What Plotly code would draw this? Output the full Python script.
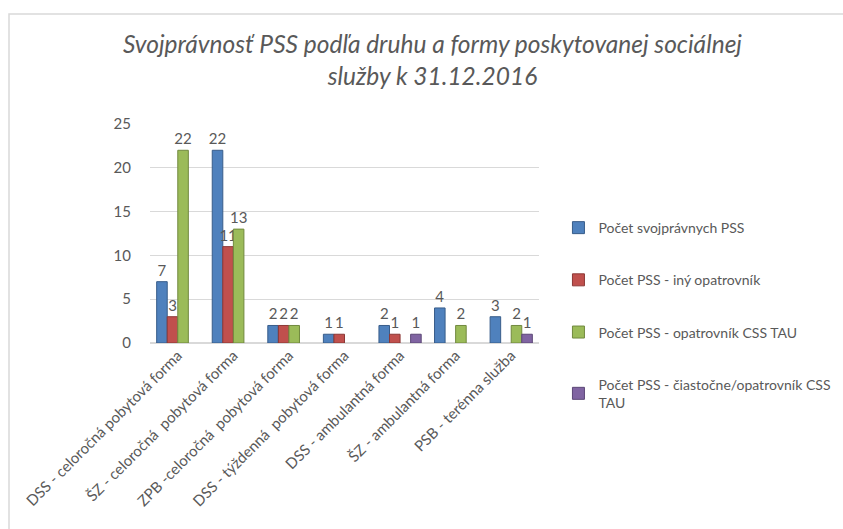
import plotly.graph_objects as go

categories = [
    "DSS - celoročná pobytová forma",
    "ŠZ - celoročná  pobytová forma",
    "ZPB -celoročná  pobytová forma",
    "DSS - týždenná  pobytová forma",
    "DSS - ambulantná forma",
    "ŠZ - ambulantná forma",
    "PSB - terénna služba",
]
svojpravni = [7, 22, 2, 1, 2, 4, 3]
iny_opatrovnik = [3, 11, 2, 1, 1, None, None]
opatrovnik_css = [22, 13, 2, None, None, 2, 2]
ciastocne = [None, None, None, None, 1, None, 1]

series_names = [
    "Počet svojprávnych PSS",
    "Počet PSS - iný opatrovník",
    "Počet PSS - opatrovník CSS TAU",
    "Počet PSS - čiastočne/opatrovník CSS<br>TAU",
]
series_values = [svojpravni, iny_opatrovnik, opatrovnik_css, ciastocne]
colors = ["#4F81BD", "#C0504D", "#9BBB59", "#8064A2"]
line_colors = ["#385D8A", "#8C3836", "#71893F", "#5C4776"]

FONT = "Lato, 'Open Sans', sans-serif"
GRAY = "#595959"

fig = go.Figure()
for i, (name, vals, c, lc) in enumerate(zip(series_names, series_values, colors, line_colors)):
    fig.add_trace(go.Bar(
        x=categories, y=vals, name=name,
        marker=dict(color=c, line=dict(color=lc, width=1)),
        text=[("" if v is None else str(v)) for v in vals],
        textposition="outside", cliponaxis=False, constraintext="none",
        textfont=dict(size=15, color=GRAY, family=FONT),
        legendgroup=f"g{i}",
    ))

fig.update_layout(
    width=843, height=529,
    margin=dict(l=150, r=304, t=124, b=186, autoexpand=False),
    paper_bgcolor="white", plot_bgcolor="white",
    barmode="group", bargap=0.24, bargroupgap=0,
    font=dict(family=FONT, color=GRAY),
    title=dict(
        text="Svojprávnosť PSS podľa druhu a formy poskytovanej sociálnej<br>služby k 31.12.2016",
        x=0.513, xanchor="center", y=0.9, yanchor="top",
        font=dict(size=24.5, color=GRAY, family=FONT, style="italic"),
    ),
    legend=dict(
        x=1.05, xanchor="left", y=0.598, yanchor="top",
        font=dict(size=14, color=GRAY, family=FONT),
        traceorder="grouped", tracegroupgap=31,
        itemwidth=30, bgcolor="rgba(0,0,0,0)",
    ),
    xaxis=dict(
        tickangle=-45, tickfont=dict(size=15, color=GRAY, family=FONT),
        showline=False, showgrid=False, ticks="", automargin=False,
    ),
    yaxis=dict(
        range=[0, 25], dtick=5, showgrid=True, gridcolor="#D9D9D9",
        zeroline=True, zerolinecolor="#D9D9D9",
        tickfont=dict(size=15, color=GRAY, family=FONT),
        ticklabelstandoff=18, automargin=False,
    ),
    shapes=[dict(
        type="rect", xref="paper", yref="paper",
        x0=(9 - 150) / 389, x1=(900 - 150) / 389,
        y0=(343 - 600) / 219, y1=(343 - 14) / 219,
        line=dict(color="#D9D9D9", width=1.5), fillcolor="rgba(0,0,0,0)",
        layer="below",
    )],
)

fig.write_html("out.html", config={"displayModeBar": False},
               post_script="document.body.style.margin='0';")
